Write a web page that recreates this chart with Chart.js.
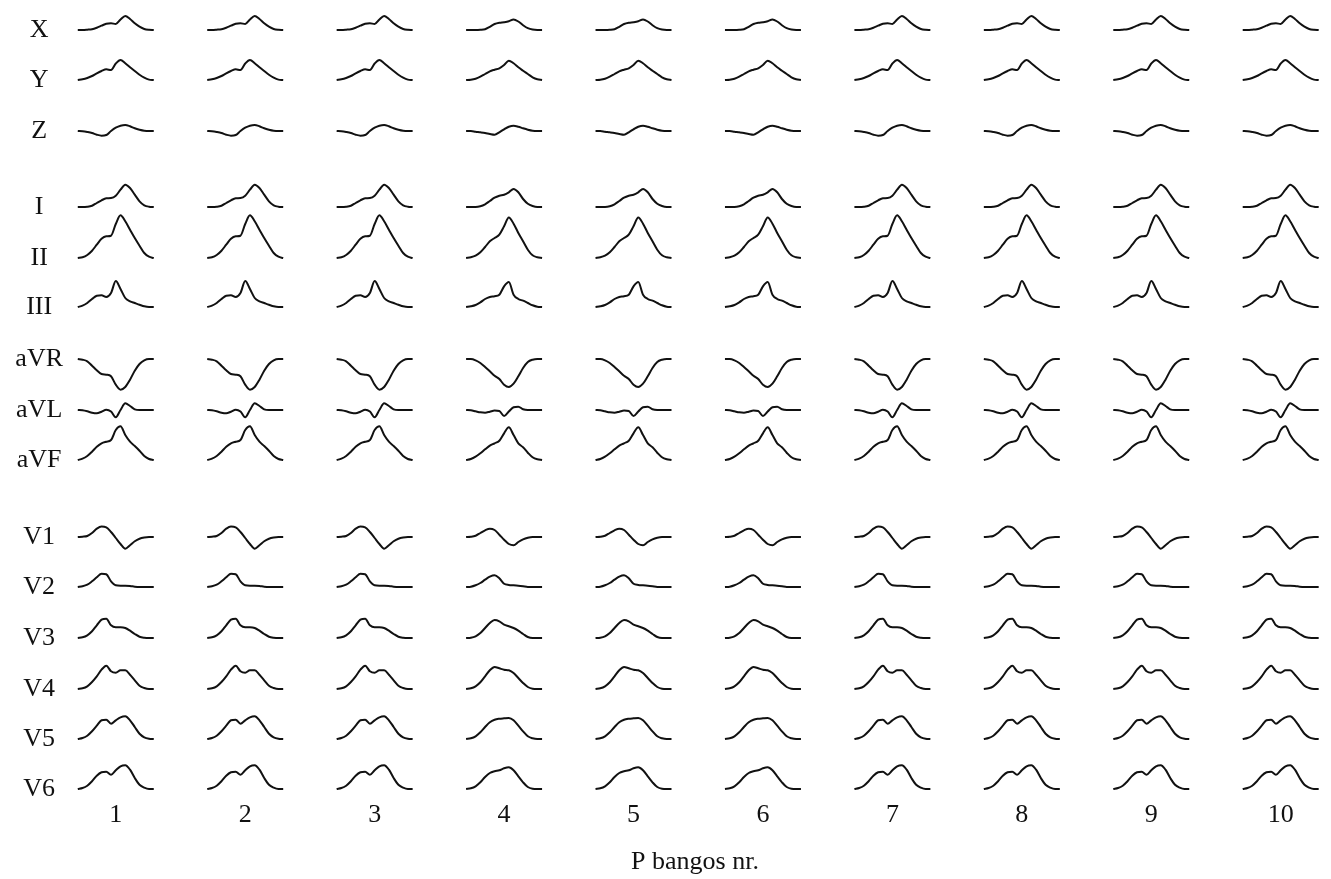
<!DOCTYPE html>
<html>
<head>
<meta charset="utf-8">
<script src="https://cdn.jsdelivr.net/npm/chart.js@4.4.0/dist/chart.umd.min.js"></script>
<style>
  html, body { margin: 0; padding: 0; background: #fff; }
  #wrap { width: 1331px; height: 879px; position: relative; }
</style>
</head>
<body>
<div id="wrap"><canvas id="pChart"></canvas></div>
<script>
// Lydžių pavadinimai ir P bangų numeriai
const leadNames = ['X', 'Y', 'Z', 'I', 'II', 'III', 'aVR', 'aVL', 'aVF', 'V1', 'V2', 'V3', 'V4', 'V5', 'V6'];
const waveNumbers = [1, 2, 3, 4, 5, 6, 7, 8, 9, 10];
// laiko taškai P bangos viduje (ms)
const pTime = [0, 7.5, 15, 22.5, 30, 37.5, 45, 52.5, 60, 67.5, 75, 82.5, 90, 97.5, 105, 112.5, 120];
// kuri forma naudojama kiekvienai bangai: A - su įlinkiu, B - glotni
const waveShape = ['A', 'A', 'A', 'B', 'B', 'B', 'A', 'A', 'A', 'A'];

// amplitudės (sąlyginiai vnt.) kiekviename laiko taške
const X_A   = [0, 0, 0.3, 0.8, 2.3, 4.3, 6.3, 6.8, 6, 10.5, 14, 11, 6.7, 3.3, 1, 0.2, 0];
const X_B   = [0, 0, 0, 0.2, 0.8, 3.2, 6, 7.3, 7.8, 8.7, 10.5, 8.5, 4.8, 1.8, 0.4, 0, 0];
const Y_A   = [0, 0.7, 2, 4, 6.7, 9, 10.7, 10, 16.5, 20, 16.7, 12.7, 9, 5.3, 2.3, 0.4, 0];
const Y_B   = [0, 0.3, 1.3, 3.3, 6, 8.7, 10.3, 11.7, 15, 19.3, 16.7, 12.7, 9.3, 6, 2.7, 0.7, 0];
const Z_A   = [0, -0.3, -1, -2, -3.7, -4.7, -4, 0, 3.3, 5.3, 6, 4.7, 2.7, 1.3, 0.3, 0, 0];
const Z_B   = [0, 0, -0.7, -1.3, -2, -3, -3.7, -1.3, 1.7, 4.3, 5.3, 4.3, 2.7, 1.3, 0.3, 0, 0];
const I_A   = [0, 0, 0.3, 1.3, 4, 6.7, 8.7, 9, 11.3, 17.3, 22.3, 19, 12.3, 5.7, 1.7, 0.3, 0];
const I_B   = [0, 0, 0, 0.7, 2.7, 6, 9.3, 11.3, 12.3, 14.7, 18, 14.7, 8, 3.3, 1, 0, 0];
const II_A  = [0, 0.7, 3, 7.3, 13.3, 19.3, 21.7, 22.3, 34, 42.7, 36.7, 28.3, 20, 12.3, 5, 1.3, 0];
const II_B  = [0, 0.7, 2.3, 5.7, 11, 16.7, 20, 23.3, 31.7, 40.5, 34.3, 25, 16.7, 8.3, 2.7, 0.7, 0];
const III_A = [0, 1.3, 4, 8, 11.3, 11.7, 10, 14, 26, 18, 9, 5.7, 4, 2.3, 0.7, 0, 0];
const III_B = [0, 0.7, 2, 4.7, 8, 10, 10.7, 12.3, 20.7, 25, 12.3, 8, 6.3, 4, 1.7, 0.3, 0];
const aVR_A = [0, -0.7, -2.3, -6.7, -11.3, -15, -15.7, -17.3, -25.7, -30.7, -28, -20.7, -11.7, -5, -1.3, 0, 0];
const aVR_B = [0, 0, -1.3, -4, -8, -12.3, -16.7, -20, -25.7, -28, -24.7, -17.3, -9, -3, -0.7, 0, 0];
const aVL_A = [0, -0.3, -1.3, -2.7, -3.3, -1.7, 0.3, -1.5, -7.3, 0, 6.7, 4, 0.7, 0, 0, 0, 0];
const aVL_B = [0, -0.3, -1.3, -2.3, -2.7, -1.7, -0.5, -1, -6, -1.5, 2.7, 3.3, 0.7, 0, 0, 0, 0];
const aVF_A = [0, 1.3, 4, 8.3, 13.3, 16.7, 18.3, 20, 30, 33.7, 25, 18.3, 14, 9.3, 4, 1, 0];
const aVF_B = [0, 1, 3.3, 6.7, 10.7, 14.3, 16.7, 19.3, 26.7, 32.7, 25, 16.7, 12.7, 7.3, 2.7, 0.7, 0];
const V1_A  = [0, 0.3, 1, 4, 8.3, 10.5, 9.7, 5, -1, -7, -11.7, -8.3, -4.3, -1.7, -0.5, 0, 0];
const V1_B  = [0, 0.3, 1.3, 4, 6.7, 8.3, 7, 2.3, -2.7, -7, -8.3, -5, -2.3, -0.7, 0, 0, 0];
const V2_A  = [0, 0.7, 2.3, 5.7, 9.7, 13.3, 12.7, 5.7, 1.7, 1.3, 1.3, 1, 0.3, 0, 0, 0, 0];
const V2_B  = [0, 0.3, 1.7, 4, 7.3, 10.3, 11.7, 8.7, 3.3, 2, 1.7, 1.3, 0.7, 0, 0, 0, 0];
const V3_A  = [0, 0.7, 2.7, 6.7, 12.7, 18.3, 19.3, 12.7, 10.7, 10.7, 10, 7.3, 4, 1.3, 0.3, 0, 0];
const V3_B  = [0, 0.3, 1.7, 5, 10, 15, 18, 16.7, 13.3, 11.7, 10, 7.3, 4, 1, 0, 0, 0];
const V4_A  = [0, 0.7, 2.7, 7, 12.7, 19.3, 23.3, 17.7, 16.3, 18.7, 18.7, 14.3, 8.7, 3.3, 1, 0, 0];
const V4_B  = [0, 0.7, 2.7, 6.7, 12.7, 18.7, 22, 20.7, 19.3, 18.7, 16, 11, 6, 2, 0.3, 0, 0];
const V5_A  = [0, 1, 3.3, 7.7, 13.3, 18.7, 19.3, 15.3, 18.7, 21.7, 22.7, 18.7, 12, 5.3, 1.7, 0.3, 0];
const V5_B  = [0, 0.7, 2.7, 6.7, 12, 16.7, 19.3, 20.3, 20.7, 21, 18.7, 13.3, 7.7, 2.7, 0.7, 0, 0];
const V6_A  = [0, 1, 3.3, 7.7, 13.3, 16.7, 17.3, 14.3, 18.7, 22.7, 23.7, 19.3, 11, 4.3, 1.3, 0, 0];
const V6_B  = [0, 0.7, 2.7, 6.7, 12, 16, 17.7, 18.7, 20.7, 21.7, 18.7, 12.7, 6.7, 2, 0.3, 0, 0];

const shapes = {
    X: { A: X_A, B: X_B }, Y: { A: Y_A, B: Y_B }, Z: { A: Z_A, B: Z_B },
    I: { A: I_A, B: I_B }, II: { A: II_A, B: II_B }, III: { A: III_A, B: III_B },
    aVR: { A: aVR_A, B: aVR_B }, aVL: { A: aVL_A, B: aVL_B }, aVF: { A: aVF_A, B: aVF_B },
    V1: { A: V1_A, B: V1_B }, V2: { A: V2_A, B: V2_B }, V3: { A: V3_A, B: V3_B },
    V4: { A: V4_A, B: V4_B }, V5: { A: V5_A, B: V5_B }, V6: { A: V6_A, B: V6_B }
};

// išdėstymas: kiekvieno lydžio nulinė linija y ašyje ir bangos plotis x ašyje
const rowLevel = [770, 720, 669, 593, 542, 493, 441, 390, 340, 263, 213, 162, 111, 61, 11];
const waveWidth = 0.587;

const datasets = [];
leadNames.forEach(function(lead, r) {
    waveNumbers.forEach(function(n, c) {
        const amp = shapes[lead][waveShape[c]];
        datasets.push({
            data: pTime.map(function(t, i) {
                return { x: n + (t / 120 - 0.5) * waveWidth, y: rowLevel[r] + amp[i] };
            }),
            borderColor: '#111',
            borderWidth: 2,
            pointRadius: 0,
            fill: false,
            cubicInterpolationMode: 'monotone'
        });
    });
});

const serif = { family: "'Liberation Serif', 'Times New Roman', serif", size: 26 };

const ctx = document.getElementById('pChart').getContext('2d');
const pChart = new Chart(ctx, {
    type: 'line',
    data: { datasets: datasets },
    options: {
        responsive: true,
        maintainAspectRatio: false,
        animation: false,
        layout: { padding: { left: 0, right: 5, top: 0, bottom: 0 } },
        plugins: {
            legend: { display: false },
            tooltip: { enabled: false }
        },
        scales: {
            x: {
                type: 'linear',
                min: 0.6,
                max: 10.35,
                border: { display: false },
                grid: { display: false, drawTicks: false },
                afterBuildTicks: function(scale) {
                    scale.ticks = waveNumbers.map(function(v) { return { value: v }; });
                },
                afterFit: function(scale) {
                    scale.height = 79;
                    scale.paddingLeft = 0;
                    scale.paddingRight = 0;
                },
                ticks: {
                    autoSkip: false,
                    maxRotation: 0,
                    padding: 0,
                    color: '#111',
                    font: serif,
                    callback: function(v) { return String(v); }
                },
                title: {
                    display: true,
                    text: 'P bangos nr.',
                    color: '#111',
                    font: serif,
                    padding: { top: 0, bottom: 1 }
                }
            },
            y: {
                type: 'linear',
                min: 0,
                max: 800,
                border: { display: false },
                grid: { display: false, drawTicks: false },
                afterBuildTicks: function(scale) {
                    scale.ticks = rowLevel.map(function(v) { return { value: v }; });
                },
                afterFit: function(scale) {
                    scale.width = 64;
                    scale.paddingTop = 0;
                    scale.paddingBottom = 0;
                },
                ticks: {
                    autoSkip: false,
                    crossAlign: 'center',
                    padding: 1,
                    color: '#111',
                    font: serif,
                    callback: function(v, i) { return leadNames[i]; }
                }
            }
        }
    }
});
</script>
</body>
</html>
